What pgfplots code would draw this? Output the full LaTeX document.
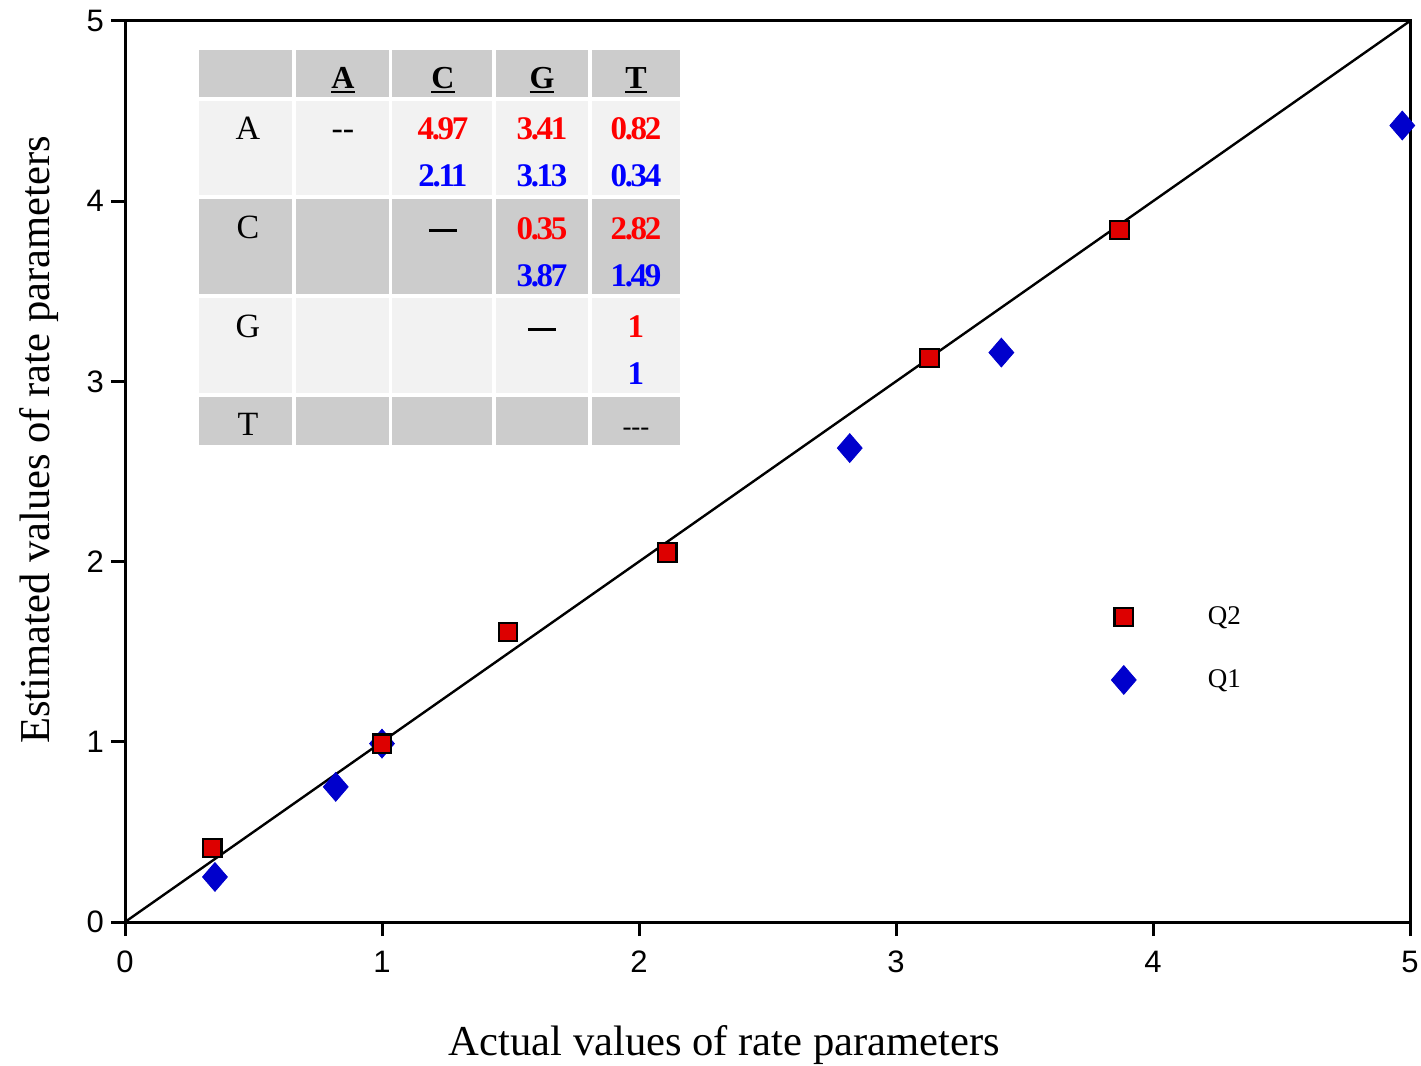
\documentclass[border=0pt]{standalone}
\usepackage{fontspec}
\setmainfont{Liberation Serif}
\newfontfamily\arialfont{Liberation Sans}
\newfontfamily\numfont[LetterSpace=-7]{Liberation Serif}
\usepackage{pgfplots}
\pgfplotsset{compat=1.18}
\definecolor{sqred}{HTML}{DD0000}
\definecolor{dmblue}{HTML}{0000CC}
\definecolor{cellgray}{HTML}{CCCCCC}
\definecolor{celllight}{HTML}{F2F2F2}
\definecolor{nred}{HTML}{FF0000}
\definecolor{nblue}{HTML}{0000FF}
\newcommand\ul[1]{\leavevmode\setbox0\hbox{#1}\rlap{\vrule width\wd0 height -0.8bp depth 1.8bp}\box0}
\newcommand\hd[1]{\fontsize{16bp}{18bp}\selectfont\bfseries\ul{#1}}
\newcommand\rl[1]{\fontsize{17bp}{19bp}\selectfont #1}
\newcommand\nr[1]{\numfont\fontsize{16.5bp}{19bp}\selectfont\bfseries\color{nred}#1}
\newcommand\nb[1]{\numfont\fontsize{16.5bp}{19bp}\selectfont\bfseries\color{nblue}#1}
\newcommand\bdash{\rule[3.6bp]{14bp}{1.6bp}}
\begin{document}
\begin{tikzpicture}
\path[use as bounding box] (-62.5bp,-72bp) rectangle (648bp,461bp);
\begin{axis}[
  at={(0,0)}, anchor=south west,
  scale only axis, width=642.5bp, height=450.5bp,
  xmin=0, xmax=5, ymin=0, ymax=5,
  xtick={0,1,2,3,4,5}, ytick={0,1,2,3,4,5},
  tick align=outside, xtick pos=bottom, ytick pos=left,
  major tick length=7bp,
  axis line style={line width=1.5bp},
  every tick/.style={black, line width=1.5bp},
  tick label style={font=\arialfont\fontsize{15.5bp}{18bp}\selectfont},
  xticklabel style={yshift=-4bp},
  /pgf/number format/assume math mode=true,
  clip=false,
  xlabel={Actual values of rate parameters},
  ylabel={Estimated values of rate parameters},
  label style={font=\fontsize{21.3bp}{25bp}\selectfont},
  xlabel style={at={(rel axis cs:0.4665,-0.148)}, anchor=base},
  ylabel style={at={(rel axis cs:-0.0584,0.535)}, anchor=base},
  reverse legend,
  legend image code/.code={\draw[#1] plot coordinates {(0bp,0bp)}; \path[draw=none] (0bp,0bp) -- (40bp,0bp);},
  legend style={draw=none, fill=none, at={(rel axis cs:0.8195,0.3035)}, anchor=center,
    font=\fontsize{13.5bp}{16bp}\selectfont, row sep=17bp},
]
\addplot[only marks, mark=diamond*, mark size=7.2bp, color=dmblue,
  mark options={fill=dmblue, draw=dmblue, xscale=1.15}]
  coordinates {(0.35,0.25)(0.82,0.75)(1,0.99)(2.82,2.63)(3.41,3.16)(4.97,4.42)};
\addlegendentry{Q1}
\addplot[only marks, mark=square*, mark size=4.6bp,
  mark options={fill=sqred, draw=black, line width=1.1bp}]
  coordinates {(0.34,0.41)(1,0.99)(1.49,1.61)(2.11,2.05)(3.13,3.13)(3.87,3.84)};
\addlegendentry{Q2}
\addplot[black, line width=1.2bp, no marks, forget plot] coordinates {(0,0)(5,5)};
\end{axis}
\begin{scope}[shift={(-62.5bp,461bp)}, x=0.5bp, y=-0.5bp]
\foreach \ya/\yb/\c in {50/97/cellgray, 101/195/celllight, 199/294/cellgray, 298/393/celllight, 397/445/cellgray}
  \foreach \xa/\xb in {199/292, 296/389, 392/492, 496/588, 592/680}
    \fill[\c] (\xa,\ya) rectangle (\xb,\yb);
\tikzset{every node/.style={anchor=base, inner sep=0pt}}
% header
\node at (343,89) {\hd{A}};
\node at (443,89) {\hd{C}};
\node at (542,89) {\hd{G}};
\node at (636,89) {\hd{T}};
% row labels
\node at (248,140) {\rl{A}};
\node at (248,239) {\rl{C}};
\node at (248,338) {\rl{G}};
\node at (248,435.5) {\rl{T}};
% dashes
\node at (343,140) {\rl{{-}{-}}};
\node at (443,239.5) {\bdash};
\node at (542,338) {\bdash};
\node at (636,435.5) {\fontsize{13.5bp}{16bp}\selectfont {-}{-}{-}};
% values
\node at (443,140) {\nr{4.97}};
\node at (542,140) {\nr{3.41}};
\node at (636,140) {\nr{0.82}};
\node at (443,186.5) {\nb{2.11}};
\node at (542,186.5) {\nb{3.13}};
\node at (636,186.5) {\nb{0.34}};
\node at (542,239.5) {\nr{0.35}};
\node at (636,239.5) {\nr{2.82}};
\node at (542,287) {\nb{3.87}};
\node at (636,287) {\nb{1.49}};
\node at (636,337.5) {\nr{1}};
\node at (636,385) {\nb{1}};
\end{scope}
\end{tikzpicture}
\end{document}
